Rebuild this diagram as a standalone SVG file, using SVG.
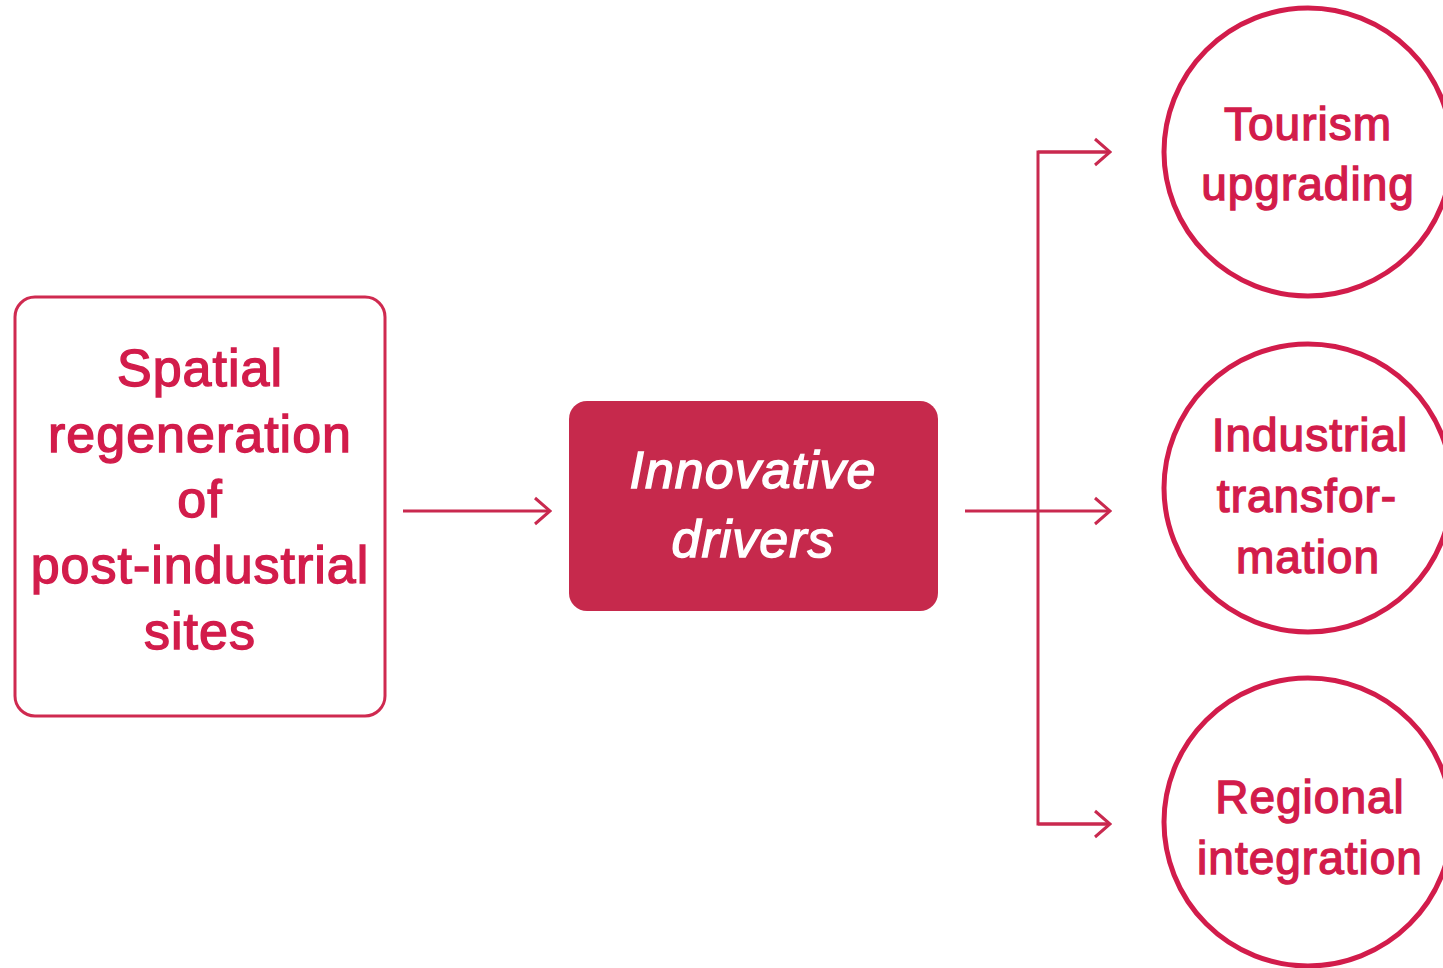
<svg xmlns="http://www.w3.org/2000/svg" width="1443" height="968" viewBox="0 0 1443 968">
<defs>
<style>
.t{font-family:"Liberation Sans",Arial,sans-serif;fill:#d21c4b;stroke:#d21c4b;stroke-width:1.4px;text-anchor:middle;letter-spacing:1px}
.big{font-size:52px}
.mid{font-size:46px}
.w{font-family:"Liberation Sans",Arial,sans-serif;fill:#ffffff;stroke:#ffffff;stroke-width:1.4px;text-anchor:middle;font-style:italic;font-size:52px;letter-spacing:1px}
.circ{fill:none;stroke:#d21c4b;stroke-width:5}
.ln{fill:none;stroke:#c9294f;stroke-width:3}
</style>
<marker id="ah" viewBox="0 0 20 30" refX="18" refY="15" markerWidth="20" markerHeight="30" markerUnits="userSpaceOnUse" orient="auto">
<path d="M3,2 L18,15 L3,28" fill="none" stroke="#c9294f" stroke-width="3"/>
</marker>
</defs>
<rect width="1443" height="968" fill="#ffffff"/>
<g id="connectors">
<line class="ln" x1="403" y1="511" x2="550" y2="511" marker-end="url(#ah)"/>
<line class="ln" x1="965" y1="511" x2="1110" y2="511" marker-end="url(#ah)"/>
<path class="ln" d="M1110,152 L1038,152 L1038,824 L1110,824"/>
<path class="ln" d="M1038,152 L1110,152" marker-end="url(#ah)"/>
<path class="ln" d="M1038,824 L1110,824" marker-end="url(#ah)"/>
</g>
<g id="spatial">
<rect x="15" y="297" width="370" height="419" rx="20" fill="none" stroke="#cf2a50" stroke-width="3"/>
<text class="t big" x="200" y="386">Spatial</text>
<text class="t big" x="200" y="452">regeneration</text>
<text class="t big" x="200" y="517">of</text>
<text class="t big" x="200" y="583">post-industrial</text>
<text class="t big" x="200" y="649">sites</text>
</g>
<g id="drivers">
<rect x="569" y="401" width="369" height="210" rx="18" fill="#c6294c"/>
<text class="w" x="753" y="488">Innovative</text>
<text class="w" x="753" y="557">drivers</text>
</g>
<g id="tourism">
<circle class="circ" cx="1308" cy="152" r="144"/>
<text class="t mid" x="1308" y="140">Tourism</text>
<text class="t mid" x="1308" y="200">upgrading</text>
</g>
<g id="industrial">
<circle class="circ" cx="1308" cy="488" r="144"/>
<text class="t mid" x="1310" y="451">Industrial</text>
<text class="t mid" x="1307" y="512">transfor-</text>
<text class="t mid" x="1308" y="573">mation</text>
</g>
<g id="regional">
<circle class="circ" cx="1308" cy="822" r="144"/>
<text class="t mid" x="1310" y="813">Regional</text>
<text class="t mid" x="1310" y="874">integration</text>
</g>
</svg>
